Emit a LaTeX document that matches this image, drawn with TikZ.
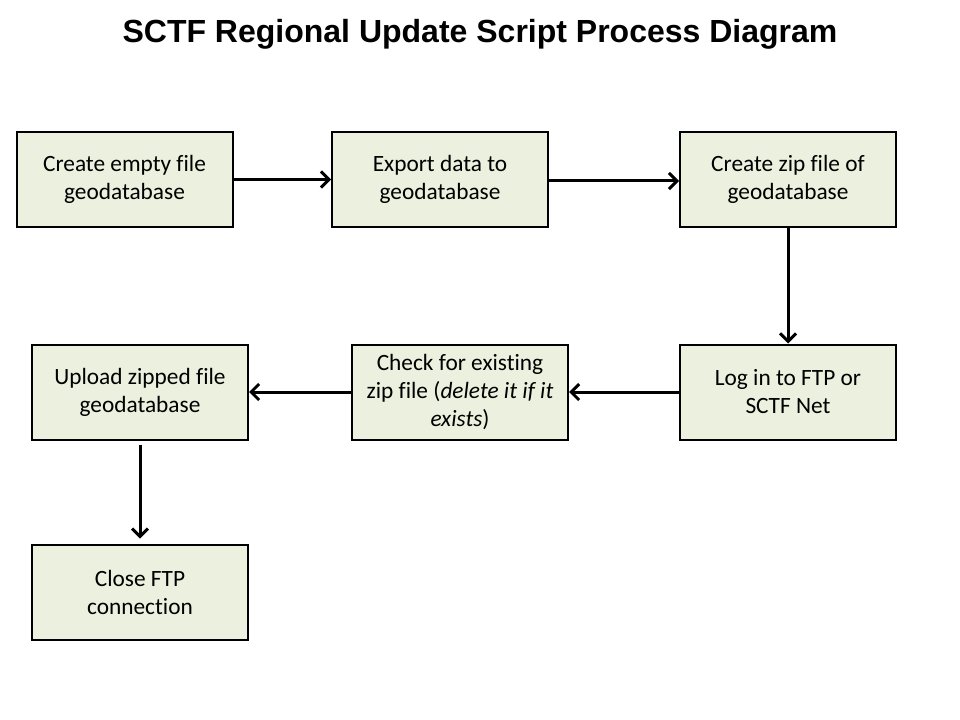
\documentclass[tikz,border=0pt]{standalone}
\usepackage{fontspec}
\setmainfont{Carlito}[Ligatures=NoCommon]
\newfontfamily\titlefont{Liberation Sans}
\usetikzlibrary{arrows.meta}
\definecolor{boxfill}{HTML}{EBF1DE}
\tikzset{
  procbox/.style={draw=black, fill=boxfill, line width=1.5pt, minimum width=216*0.75pt, minimum height=95*0.75pt, align=center, inner sep=0pt, font=\fontsize{17.5}{21}\selectfont},
  flow/.style={line width=2.25pt, -{Straight Barb[length=6pt, width=12pt, line width=2.25pt]}}
}
\begin{document}
\begin{tikzpicture}[x=0.75pt, y=-0.75pt]
\useasboundingbox (0,0) rectangle (960,720);
\node[font=\titlefont\bfseries\fontsize{24}{28}\selectfont] (title) at (480,34) {SCTF Regional Update Script Process Diagram};
\node[procbox] (b1) at (124.5,179.5) {Create empty file\\geodatabase};
\node[procbox] (b2) at (440,179.5) {Export data to\\geodatabase};
\node[procbox] (b3) at (788,179.5) {Create zip file of\\geodatabase};
\node[procbox] (b4) at (788,392) {Log in to FTP or\\SCTF Net};
\node[procbox] (b5) at (460,392) {Check for existing\\zip file (\textit{delete it if it}\\\textit{exists})};
\node[procbox] (b6) at (140,392) {Upload zipped file\\geodatabase};
\node[procbox] (b7) at (140,592.5) {Close FTP\\connection};
\draw[flow] (b1.east) -- (b2.west);
\draw[flow] (b2.east |- 0,181) -- (b3.west |- 0,181);
\draw[flow] (b3.south) -- (b4.north);
\draw[flow] (b4.west) -- (b5.east);
\draw[flow] (b5.west) -- (b6.east);
\draw[flow] ([yshift=-3pt]b6.south) -- ([yshift=4pt]b7.north);
\end{tikzpicture}
\end{document}
